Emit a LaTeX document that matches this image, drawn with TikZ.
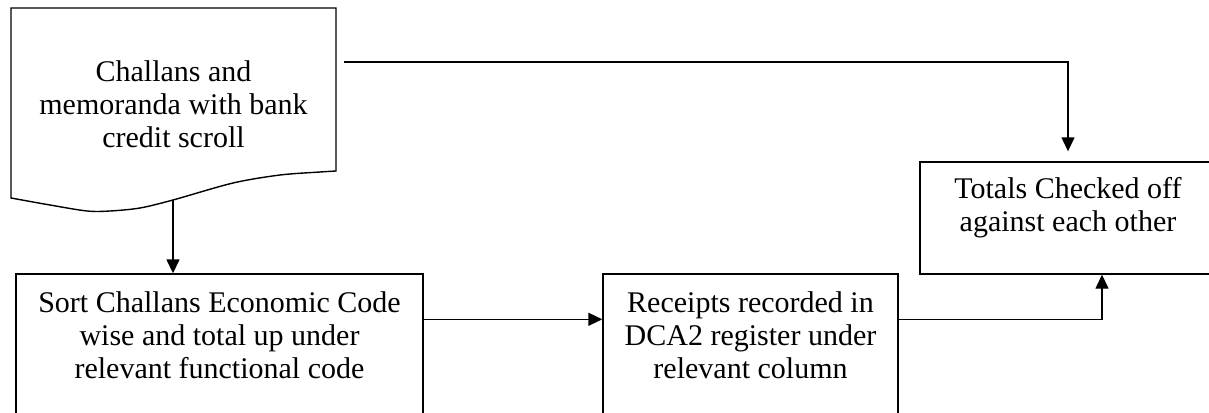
\documentclass[tikz,border=0pt]{standalone}
\usepackage{fontspec}
\setmainfont{Liberation Serif}
\usetikzlibrary{arrows.meta}
\begin{document}
\begin{tikzpicture}[x=1pt,y=1pt,
  line width=1.4pt,
  boxshape/.style={draw, rectangle, inner sep=0pt},
  boxtext/.style={align=center, inner sep=0pt, anchor=north, font=\fontsize{30}{33}\selectfont},
  arr/.style={-{Triangle[length=14pt,width=13pt]}}]
\useasboundingbox (0,0) rectangle (1209,-412);
\clip (0,0) rectangle (1209,-412);

% document symbol with wavy lower edge
\draw[line join=miter] (11,-198) -- (11,-8) -- (336,-8) -- (336,-171)
  -- plot[smooth] coordinates {(336,-171) (320,-172) (280,-175) (233,-183)
     (173,-200) (140,-208) (110,-211) (87,-211) (50,-205) (11,-198)} -- cycle;
\node[boxtext] (doc) at (173.5,-59.5) {Challans and\\memoranda with bank\\credit scroll};
\coordinate (docout) at (344,-62);
\coordinate (docbot) at (173,-200);

% process boxes (lower ones run past the bottom edge)
\node[boxshape, minimum width=407pt, minimum height=160pt] (sort) at (219.5,-354) {};
\node[boxtext] (sorttxt) at ([yshift=-17.5pt]sort.north)
  {Sort Challans Economic Code\\wise and total up under\\relevant functional code};
\node[boxshape, minimum width=295pt, minimum height=160pt] (rec) at (750.5,-354) {};
\node[boxtext] (rectxt) at ([yshift=-17.5pt]rec.north)
  {Receipts recorded in\\DCA2 register under\\relevant column};
\node[boxshape, minimum width=296pt, minimum height=112pt] (tot) at (1068,-218) {};
\node[boxtext] (tottxt) at ([yshift=-15pt]tot.north)
  {Totals Checked off\\against each other};

% connectors
\draw[arr] (docbot) -- (docbot |- sort.north);
\draw[arr, shorten >=10pt] (docout) -| (tot.north);
\draw[arr] ([yshift=-46pt]sort.north east) -- ([yshift=-46pt]rec.north west);
\draw[arr] ([yshift=-46pt]rec.north east) -| ([xshift=34pt]tot.south);
\end{tikzpicture}
\end{document}
